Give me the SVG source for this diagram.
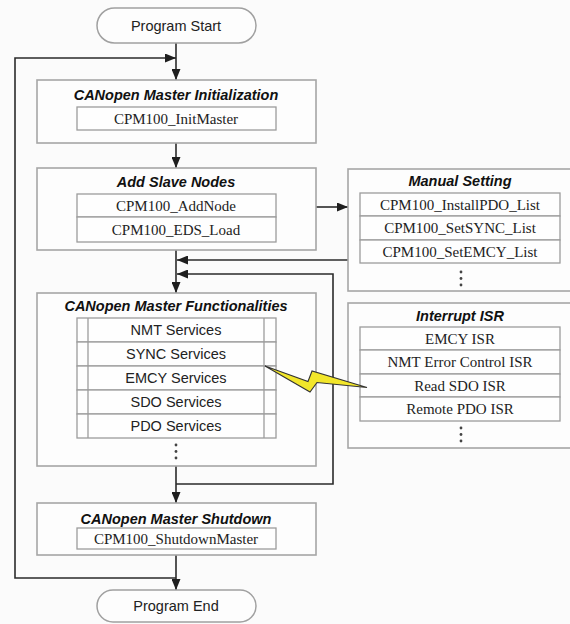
<svg xmlns="http://www.w3.org/2000/svg" width="570" height="624" viewBox="0 0 570 624">
<style>
.bg{fill:#fbfbfb}
.box{fill:#fdfdfd;stroke:#a6a6a6;stroke-width:1.6}
.row{fill:#fefefe;stroke:#9c9c9c;stroke-width:1.3}
.pill{fill:#fdfdfd;stroke:#a0a0a0;stroke-width:1.5}
.title{font-family:"Liberation Sans",Arial,sans-serif;font-size:14.5px;font-weight:bold;font-style:italic;fill:#111;text-anchor:middle}
.serif{font-family:"Liberation Serif","Times New Roman",serif;font-size:15px;fill:#222;text-anchor:middle}
.sans{font-family:"Liberation Sans",Arial,sans-serif;font-size:14.5px;fill:#222;text-anchor:middle}
.conn{stroke:#2b2b2b;stroke-width:1.6;fill:none}
.dot{fill:#444}
</style>
<defs>
<marker id="arr" markerUnits="userSpaceOnUse" markerWidth="11" markerHeight="9" refX="11" refY="4.5" orient="auto">
<path d="M0,0 L11,4.5 L0,9 z" fill="#1e1e1e"/>
</marker>
</defs>
<rect class="bg" x="0" y="0" width="570" height="624"/>

<g id="connectors">
<path class="conn" d="M176,43 V80" marker-end="url(#arr)"/>
<path class="conn" d="M176,578 H15 V58 H176" marker-end="url(#arr)"/>
<path class="conn" d="M176,143 V168" marker-end="url(#arr)"/>
<path class="conn" d="M316,207 H348" marker-end="url(#arr)"/>
<path class="conn" d="M176,250 V293" marker-end="url(#arr)"/>
<path class="conn" d="M348,260 H177" marker-end="url(#arr)"/>
<path class="conn" d="M176,466 V503" marker-end="url(#arr)"/>
<path class="conn" d="M176,484 H333 V274 H177" marker-end="url(#arr)"/>
<path class="conn" d="M176,555 V590" marker-end="url(#arr)"/>
</g>

<g id="start">
<rect class="pill" x="97" y="8" width="159" height="35" rx="17.5"/>
<text class="sans" x="176" y="31">Program Start</text>
</g>

<g id="init">
<rect class="box" x="37" y="80" width="279" height="63"/>
<text class="title" x="176" y="100">CANopen Master Initialization</text>
<rect class="row" x="77" y="107" width="199" height="23"/>
<text class="serif" x="176" y="124">CPM100_InitMaster</text>
</g>

<g id="addslave">
<rect class="box" x="37" y="168" width="279" height="82"/>
<text class="title" x="176" y="187">Add Slave Nodes</text>
<rect class="row" x="77" y="194" width="199" height="23"/>
<rect class="row" x="77" y="217" width="199" height="25"/>
<text class="serif" x="176" y="211">CPM100_AddNode</text>
<text class="serif" x="176" y="235">CPM100_EDS_Load</text>
</g>

<g id="manual">
<rect class="box" x="348" y="169" width="230" height="122"/>
<text class="title" x="460" y="186">Manual Setting</text>
<rect class="row" x="360" y="193" width="200" height="23"/>
<rect class="row" x="360" y="216" width="200" height="24"/>
<rect class="row" x="360" y="240" width="200" height="23"/>
<text class="serif" x="460" y="210">CPM100_InstallPDO_List</text>
<text class="serif" x="460" y="233">CPM100_SetSYNC_List</text>
<text class="serif" x="460" y="257">CPM100_SetEMCY_List</text>
<circle class="dot" cx="461" cy="272" r="1.4"/>
<circle class="dot" cx="461" cy="278.5" r="1.4"/>
<circle class="dot" cx="461" cy="285" r="1.4"/>
</g>

<g id="functionalities">
<rect class="box" x="37" y="293" width="279" height="173"/>
<text class="title" x="176" y="311">CANopen Master Functionalities</text>
<rect class="row" x="77" y="318" width="199" height="24"/>
<rect class="row" x="77" y="342" width="199" height="24"/>
<rect class="row" x="77" y="366" width="199" height="24"/>
<rect class="row" x="77" y="390" width="199" height="24"/>
<rect class="row" x="77" y="414" width="199" height="24"/>
<line class="row" x1="88" y1="318" x2="88" y2="438"/>
<line class="row" x1="264" y1="318" x2="264" y2="438"/>
<text class="sans" x="176" y="335">NMT Services</text>
<text class="sans" x="176" y="359">SYNC Services</text>
<text class="sans" x="176" y="383">EMCY Services</text>
<text class="sans" x="176" y="407">SDO Services</text>
<text class="sans" x="176" y="431">PDO Services</text>
<circle class="dot" cx="176" cy="445" r="1.4"/>
<circle class="dot" cx="176" cy="451.5" r="1.4"/>
<circle class="dot" cx="176" cy="458" r="1.4"/>
</g>

<g id="isr">
<rect class="box" x="348" y="303" width="230" height="145"/>
<text class="title" x="460" y="321">Interrupt ISR</text>
<rect class="row" x="360" y="327" width="200" height="23"/>
<rect class="row" x="360" y="350" width="200" height="24"/>
<rect class="row" x="360" y="374" width="200" height="23"/>
<rect class="row" x="360" y="397" width="200" height="24"/>
<text class="serif" x="460" y="344">EMCY ISR</text>
<text class="serif" x="460" y="367">NMT Error Control ISR</text>
<text class="serif" x="460" y="391">Read SDO ISR</text>
<text class="serif" x="460" y="414">Remote PDO ISR</text>
<circle class="dot" cx="461" cy="428" r="1.4"/>
<circle class="dot" cx="461" cy="434.5" r="1.4"/>
<circle class="dot" cx="461" cy="441" r="1.4"/>
</g>

<g id="lightning">
<polygon points="265,366 308,381.5 312,371 367,387.5 317,382.5 310,392" fill="#f2e62a" stroke="#333" stroke-width="1.1" stroke-linejoin="miter"/>
</g>

<g id="shutdown">
<rect class="box" x="37" y="503" width="279" height="52"/>
<text class="title" x="176" y="524">CANopen Master Shutdown</text>
<rect class="row" x="77" y="528" width="199" height="21"/>
<text class="serif" x="176" y="544">CPM100_ShutdownMaster</text>
</g>

<g id="end">
<rect class="pill" x="97" y="590" width="159" height="32" rx="16"/>
<text class="sans" x="176" y="611">Program End</text>
</g>
</svg>
